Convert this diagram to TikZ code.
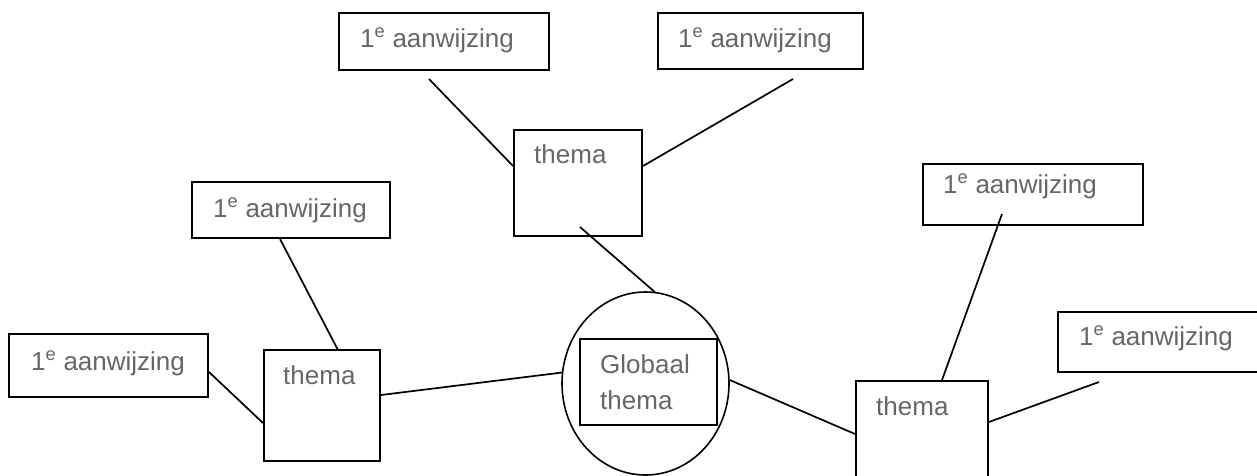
\documentclass[tikz,border=0pt]{standalone}
\usepackage{fontspec}
\setmainfont{Liberation Sans}
\usetikzlibrary{shapes.geometric}
\definecolor{labelgray}{RGB}{102,102,102}
\tikzset{
  box/.style={draw, line width=2pt, rectangle, inner sep=0pt, anchor=north west},
  label/.style={anchor=base west, inner sep=0pt, text=labelgray, font=\fontsize{26}{31}\selectfont},
  link/.style={line width=1.7pt},
}
\begin{document}
\begin{tikzpicture}[x=1pt, y=-1pt]
\useasboundingbox (0,0) rectangle (1257,475);
\clip (0,0) rectangle (1257,475);

% boxes with hints
\node[box, minimum width=210pt, minimum height=57pt] (A1) at (338,12) {};
\node[box, minimum width=205pt, minimum height=56pt] (A2) at (657,12) {};
\node[box, minimum width=198pt, minimum height=56pt] (A3) at (191,181) {};
\node[box, minimum width=199pt, minimum height=63pt] (A4) at (8,333) {};
\node[box, minimum width=220pt, minimum height=61pt] (A5) at (922,163) {};
\node[box, minimum width=220pt, minimum height=60pt] (A6) at (1057,311) {};

% theme boxes
\node[box, minimum width=128pt, minimum height=106pt] (T1) at (513,129) {};
\node[box, minimum width=116pt, minimum height=111pt] (T2) at (263,349) {};
\node[box, minimum width=132pt, minimum height=110pt] (T3) at (855,380) {};

% global theme
\node[draw, ellipse, line width=1.6pt, inner sep=0pt, minimum width=167pt, minimum height=183pt] (C) at (645.5,383.5) {};
\node[box, minimum width=137pt, minimum height=86pt] (G) at (579,338) {};

% texts
\node[label] (a1) at (360,47) {1\textsuperscript{e} aanwijzing};
\node[label] (a2) at (678,47) {1\textsuperscript{e} aanwijzing};
\node[label] (a3) at (213,217) {1\textsuperscript{e} aanwijzing};
\node[label] (a4) at (31,370) {1\textsuperscript{e} aanwijzing};
\node[label] (a5) at (943,193) {1\textsuperscript{e} aanwijzing};
\node[label] (a6) at (1079,345) {1\textsuperscript{e} aanwijzing};
\node[label] (t1) at (534,163) {thema};
\node[label] (t2) at (283,384) {thema};
\node[label] (t3) at (876,415) {thema};
\node[label] (g1) at (600,373) {Globaal};
\node[label] (g2) at (600,409) {thema};

% connectors
\draw[link] ([shift={(91,8)}]A1.south west) -- ([shift={(0,37)}]T1.north west);
\draw[link] ([shift={(136,9)}]A2.south west) -- ([shift={(0,37)}]T1.north east);
\draw[link] ([shift={(67,-10)}]T1.south west) -- ([shift={(9.5,1)}]C.north);
\draw[link] ([shift={(89,0)}]A3.south west) -- ([shift={(75,1)}]T2.north west);
\draw[link] ([shift={(0,39)}]A4.north east) -- ([shift={(0,74)}]T2.north west);
\draw[link] ([shift={(0,46)}]T2.north east) -- ([shift={(1,-11)}]C.west);
\draw[link] ([shift={(0,-3.5)}]C.east) -- ([shift={(0,54)}]T3.north west);
\draw[link] ([shift={(80,-12)}]A5.south west) -- ([shift={(87,0)}]T3.north west);
\draw[link] ([shift={(42,9)}]A6.south west) -- ([shift={(0,42)}]T3.north east);
\end{tikzpicture}
\end{document}
